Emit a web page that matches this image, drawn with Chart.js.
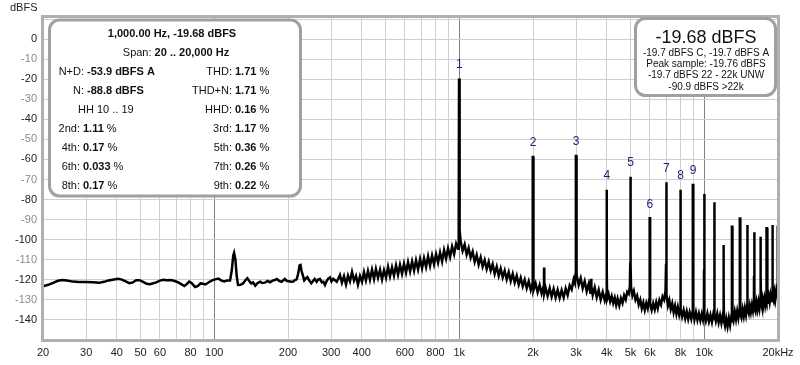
<!DOCTYPE html>
<html>
<head>
<meta charset="utf-8">
<script src="https://cdn.jsdelivr.net/npm/chart.js@4.4.0/dist/chart.umd.min.js"></script>
<style>
  body { margin: 0; background: #fff; }
  canvas { display: block; }
</style>
</head>
<body>
<canvas id="fftChart" width="800" height="365" style="width:800px;height:365px"></canvas>
<script>
// spectrum trace: [frequency Hz, level dBFS]
const spectrum = [
  [20,-123.2],[21,-122.5],[22,-121.5],[23,-120.5],[24,-120.1],[25,-120.3],[26.5,-120.9],[28,-121.1],[30,-121.1],[32,-121.2],
  [34,-121.5],[35.5,-121.0],[37,-120.3],[39,-119.8],[40.5,-119.5],[42,-119.9],[43.5,-120.8],[45,-121.7],[46.5,-121.3],[48,-120.2],
  [49.5,-120.2],[51,-120.9],[53,-122.0],[54.5,-122.2],[56,-121.8],[58,-121.3],[60,-120.4],[62,-120.0],[64,-120.2],[66.5,-120.1],
  [69,-120.6],[71,-121.2],[73,-122.0],[75.5,-123.1],[77,-122.3],[79,-120.9],[81,-121.7],[83.5,-123.6],[85.5,-123.2],[88,-121.8],
  [90,-122.0],[92,-122.3],[95,-121.2],[98,-120.3],[101,-119.8],[104,-119.4],[107,-120.4],[110,-120.8],[113,-120.3],[116,-120.3],
  [118,-115],[119.5,-108],[120.5,-106.6],[122,-110],[123.5,-118],[125,-122.6],[128,-122.5],[131,-121.8],[134,-120.2],[136.5,-119.2],
  [139,-120.6],[141.5,-121.8],[144,-121.3],[147,-122.9],[150,-121.7],[154,-120.9],[157,-121.6],[161,-121.4],[165,-120.6],[169,-121.2],
  [173,-120.4],[177,-120.1],[180,-119.6],[184,-120.5],[188,-121.0],[191,-120.3],[194,-119.6],[198,-120.6],[202,-120.7],[206,-121.0],
  [210,-120.9],[213.5,-120.1],[217,-119.8],[220,-117],[223,-112.8],[225,-112.6],[227,-115.5],[230,-117.8],[233,-120.3],[237,-119.2],
  [240,-118.7],[244,-120.3],[249,-121.7],[253,-120.6],[257,-119.6],[262,-121.0],[266,-119.8],[270,-119.6],[275,-121.3],[279,-121.0],
  [283,-122.6],[288,-120.5],[292,-119.4],[297,-118.8],[301,-120.8],[306,-119.5],[311,-120.2],[316,-121.0],[321,-119.4],
  [326,-117.6],[332,-121.4],[338.5,-118.2],[345,-122.3],[351.5,-117.9],[358,-120.8],[365,-116.1],[372,-120.4],[379,-118.0],[386,-122.4],
  [393.5,-118.1],[401,-121.0],[408.5,-116.2],[416,-120.3],[424,-115.6],[432,-119.9],[440.5,-115.0],[449,-119.6],[457,-114.6],[466,-119.0],
  [475,-115.0],[484,-119.8],[493,-115.2],[502.5,-118.9],[512,-113.6],[521.5,-118.3],[531.5,-113.8],[541.5,-117.9],[552,-112.8],[562.5,-117.4],
  [573,-112.6],[584,-117.0],[595,-112.0],[606.5,-116.4],[618,-111.2],[630,-115.8],[642,-110.9],[654,-115.4],[666,-110.3],[679,-114.8],
  [692,-109.6],[705,-114.2],[718,-109.2],[732,-113.6],[746,-108.3],[760,-113.0],[774.5,-107.9],[789,-112.2],[804,-107.2],[819.5,-111.4],
  [835,-106.4],[851,-110.8],[867,-105.2],[883.5,-109.4],[900,-104.4],[917.5,-108.6],[935,-103.4],[953,-107.2],[971,-102.0],[989,-104.5],
  [995,-95],[998,-19.68],[1002,-19.68],[1005,-95],
  [1013,-100.8],[1032,-105.6],[1052,-102.4],[1072,-107.4],[1092,-104.2],[1113,-109.0],[1134,-106.0],[1156,-111.0],[1178,-107.6],[1200,-112.4],
  [1223,-108.8],[1246,-113.4],[1270,-110.2],[1294,-114.6],[1319,-111.0],[1344,-115.4],[1369,-112.2],[1395,-117.0],[1422,-113.4],[1449,-118.0],
  [1476,-114.4],[1504,-118.8],[1533,-115.4],[1562,-119.8],[1592,-116.2],[1622,-120.6],[1653,-117.0],[1684,-121.4],[1716,-118.0],[1749,-122.4],
  [1782,-119.0],[1816,-123.2],[1850,-120.0],[1885,-124.2],[1921,-120.8],[1958,-125.0],[1990,-121.8],
  [1994,-110],[1996,-58.8],[2004,-58.8],[2006,-110],
  [2012,-125.2],[2050,-121.8],[2089,-126.2],[2129,-122.6],[2169,-126.8],[2205,-123.6],[2217,-120],[2219,-113.9],[2221,-113.9],[2223,-120],
  [2230,-126.6],[2252,-124.0],[2295,-128.0],[2339,-124.2],[2383,-128.4],[2428,-124.6],[2474,-128.8],[2521,-125.0],[2569,-129.0],[2618,-125.2],
  [2668,-128.8],[2719,-124.4],[2770,-127.6],[2823,-122.8],[2876,-124.8],[2931,-119.8],[2965,-121.6],[2985,-117.0],
  [2991,-110],[2994,-58.3],[3006,-58.3],[3009,-110],
  [3015,-117.4],[3072,-122.6],[3131,-119.2],[3190,-124.2],[3251,-120.7],[3313,-125.7],[3376,-122.0],[3430,-126.4],[3447,-122],[3450,-119.5],
  [3453,-122],[3470,-123.2],[3505,-127.6],[3572,-123.8],[3640,-128.7],[3709,-125.0],[3779,-129.9],[3851,-126.1],[3924,-130.2],[3985,-127.0],
  [3991,-115],[3992,-75.1],[4008,-75.1],[4009,-115],
  [4015,-129.5],[4070,-127.2],[4130,-130.8],[4190,-128.2],[4250,-131.6],[4310,-129.0],[4370,-132.6],[4430,-129.4],[4500,-132.8],[4570,-129.2],
  [4640,-131.6],[4710,-127.8],[4780,-129.8],[4850,-126.0],[4920,-127.0],[4970,-123.2],
  [4988,-112],[4990,-68.6],[5010,-68.6],[5012,-112],
  [5025,-123.5],[5090,-127.8],[5160,-125.6],[5240,-130.0],[5320,-128.0],[5400,-132.4],[5480,-130.0],[5560,-134.2],[5640,-131.4],[5720,-135.0],
  [5800,-131.6],[5880,-134.2],[5940,-131.0],[5975,-129.5],
  [5986,-115],[5988,-89.3],[6012,-89.3],[6014,-115],
  [6015,-132.0],[6100,-135.0],[6190,-131.8],[6280,-134.8],[6370,-131.2],[6460,-134.2],[6560,-130.2],[6660,-132.4],[6760,-128.4],[6860,-130.0],
  [6950,-125.5],
  [6983,-112],[6986,-71.4],[7014,-71.4],[7017,-112],
  [7030,-127.5],[7110,-132.8],[7200,-130.2],[7300,-134.6],[7400,-131.8],[7500,-136.2],[7600,-133.0],[7700,-137.0],[7800,-133.6],[7900,-137.2],
  [7975,-134.5],
  [7982,-115],[7984,-75.1],[8016,-75.1],[8018,-115],
  [8030,-134.5],[8120,-138.4],[8240,-135.2],[8360,-139.2],[8480,-135.8],[8600,-139.6],[8720,-136.2],[8850,-139.4],[8970,-135.5],
  [8980,-115],[8982,-72.8],[9018,-72.8],[9020,-115],
  [9030,-136.5],[9120,-139.8],[9250,-136.2],[9380,-140.0],[9510,-136.8],[9640,-140.2],[9770,-137.0],[9880,-139.8],[9968,-136.0],
  [9978,-115],[9980,-77.2],[10020,-77.2],[10022,-115],
  [10035,-137.5],[10150,-140.5],[10300,-136.8],[10450,-140.8],[10600,-137.5],[10750,-141.0],[10870,-137.6],[10965,-139.5],
  [10976,-120],[10978,-81.4],[11022,-81.4],[11024,-120],
  [11035,-137.0],[11150,-140.5],[11300,-137.0],[11450,-141.2],[11600,-137.8],[11750,-141.5],[11880,-138.2],[11962,-140.8],
  [11974,-125],[11976,-102.6],[12024,-102.6],[12026,-125],
  [12040,-140.5],[12160,-143.0],[12300,-139.4],[12450,-143.2],[12600,-139.0],[12750,-142.6],[12880,-138.8],[12960,-139.5],
  [12972,-120],[12974,-93.5],[13026,-93.5],[13028,-120],
  [13042,-137.0],[13180,-140.0],[13330,-136.0],[13480,-139.6],[13630,-135.6],[13780,-139.0],[13900,-135.8],[13955,-136.5],
  [13970,-120],[13972,-89.4],[14028,-89.4],[14030,-120],
  [14045,-136.0],[14200,-138.6],[14350,-134.8],[14500,-138.0],[14650,-134.2],[14800,-137.4],[14900,-134.5],[14952,-135.0],
  [14968,-120],[14970,-92.7],[15030,-92.7],[15032,-120],
  [15048,-134.5],[15200,-136.8],[15350,-133.0],[15500,-136.0],[15650,-132.6],[15800,-135.4],[15900,-132.4],[15950,-133.0],
  [15966,-118],[15968,-96.3],[16032,-96.3],[16034,-118],
  [16050,-133.0],[16200,-135.4],[16350,-131.4],[16500,-134.6],[16650,-131.0],[16800,-134.0],[16900,-130.8],[16946,-131.5],
  [16964,-118],[16966,-98.5],[17034,-98.5],[17036,-118],
  [17055,-131.5],[17200,-133.6],[17350,-129.8],[17500,-132.8],[17650,-129.4],[17800,-132.2],[17900,-129.2],[17944,-130.0],
  [17962,-115],[17964,-94.3],[18036,-94.3],[18038,-115],
  [18058,-130.0],[18200,-132.0],[18350,-128.2],[18500,-131.0],[18650,-127.8],[18800,-130.6],[18900,-127.6],[18940,-128.5],
  [18960,-115],[18962,-92.7],[19038,-92.7],[19040,-115],
  [19060,-128.5],[19200,-130.4],[19350,-126.6],[19500,-129.6],[19650,-126.2],[19800,-129.2],[19930,-126.8],
  [19950,-112],[19962,-93.5],[20000,-93.5]
];

// harmonic markers
const harmonicHz = [1000, 2000, 3000, 4000, 5000, 6000, 7000, 8000, 9000];
const harmonicDb = [-19.68, -58.8, -58.3, -75.1, -68.6, -89.3, -71.4, -75.1, -72.8];
const harmonicNames = ['1', '2', '3', '4', '5', '6', '7', '8', '9'];

// axes
const xGridHz = [20,30,40,50,60,70,80,90,100,200,300,400,500,600,700,800,900,
  1000,2000,3000,4000,5000,6000,7000,8000,9000,10000,20000];
const xLabelHz = [20,30,40,50,60,80,100,200,300,400,600,800,1000,2000,3000,4000,5000,6000,8000,10000,20000];
const xLabelText = ['20','30','40','50','60','80','100','200','300','400','600','800',
  '1k','2k','3k','4k','5k','6k','8k','10k','20kHz'];
const xDarkHz = [100, 1000, 10000];
const yGridDb = [10,5,0,-5,-10,-15,-20,-25,-30,-35,-40,-45,-50,-55,-60,-65,-70,-75,
  -80,-85,-90,-95,-100,-105,-110,-115,-120,-125,-130,-135,-140,-145,-150];
const yLabelDb = [0,-10,-20,-30,-40,-50,-60,-70,-80,-90,-100,-110,-120,-130,-140];

// info panels
const headLine = '1,000.00 Hz, -19.68 dBFS';
const spanLabel = 'Span: ';
const spanValue = '20 .. 20,000 Hz';
const leftStats = [
  ['N+D:', '-53.9 dBFS A', ''],
  ['N:', '-88.8 dBFS', ''],
  null,
  ['2nd:', '1.11', '%'],
  ['4th:', '0.17', '%'],
  ['6th:', '0.033', '%'],
  ['8th:', '0.17', '%']
];
const hhText = 'HH 10 .. 19';
const rightStats = [
  ['THD:', '1.71', '%'],
  ['THD+N:', '1.71', '%'],
  ['HHD:', '0.16', '%'],
  ['3rd:', '1.17', '%'],
  ['5th:', '0.36', '%'],
  ['7th:', '0.26', '%'],
  ['9th:', '0.22', '%']
];
const levelBig = '-19.68 dBFS';
const levelLines = [
  '-19.7 dBFS C, -19.7 dBFS A',
  'Peak sample: -19.76 dBFS',
  '-19.7 dBFS 22 - 22k UNW',
  '-90.9 dBFS >22k'
];

const FAMILY = '"Liberation Sans", Arial, sans-serif';
const NORMAL = '11px ' + FAMILY;
const BOLD = 'bold 11px ' + FAMILY;

function roundBox(ctx, x, y, w, h, r) {
    ctx.beginPath();
    ctx.moveTo(x + r, y);
    ctx.arcTo(x + w, y, x + w, y + h, r);
    ctx.arcTo(x + w, y + h, x, y + h, r);
    ctx.arcTo(x, y + h, x, y, r);
    ctx.arcTo(x, y, x + w, y, r);
    ctx.closePath();
    ctx.fillStyle = '#ffffff';
    ctx.fill();
    ctx.lineWidth = 3;
    ctx.strokeStyle = '#a0a0a0';
    ctx.stroke();
}

function drawPair(ctx, label, value, unit, xEnd, y) {
    ctx.textAlign = 'right';
    ctx.font = NORMAL;
    ctx.fillText(label, xEnd, y);
    ctx.textAlign = 'left';
    ctx.font = BOLD;
    let x = xEnd + 3;
    ctx.fillText(value, x, y);
    if (unit) {
        x += ctx.measureText(value).width;
        ctx.font = NORMAL;
        ctx.fillText(' ' + unit, x, y);
    }
}

const overlay = {
    id: 'overlay',
    afterDatasetsDraw(chart) {
        const ctx = chart.ctx;
        const xs = chart.scales.x, ys = chart.scales.y;
        ctx.save();
        ctx.fillStyle = '#1c1c78';
        ctx.font = '12px ' + FAMILY;
        ctx.textAlign = 'center';
        ctx.textBaseline = 'middle';
        harmonicHz.forEach((f, i) => {
            ctx.fillText(harmonicNames[i], xs.getPixelForValue(f), ys.getPixelForValue(harmonicDb[i]) - 14);
        });
        ctx.restore();
    },
    afterDraw(chart) {
        const ctx = chart.ctx;
        const a = chart.chartArea;
        ctx.save();

        // plot frame
        ctx.lineWidth = 3;
        ctx.strokeStyle = '#b0b0b0';
        ctx.strokeRect(a.left - 0.5, a.top - 0.5, a.right - a.left + 1, a.bottom - a.top + 1);

        ctx.fillStyle = '#222';
        ctx.font = NORMAL;
        ctx.textBaseline = 'middle';
        ctx.textAlign = 'left';
        ctx.fillText('dBFS', 10, 8);

        // left panel
        roundBox(ctx, 49.5, 20, 251, 176, 10);
        ctx.fillStyle = '#111';
        ctx.textAlign = 'center';
        ctx.font = BOLD;
        ctx.fillText(headLine, 172, 34);
        ctx.font = NORMAL;
        const w1 = ctx.measureText(spanLabel).width;
        ctx.font = BOLD;
        const w2 = ctx.measureText(spanValue).width;
        let sx = 176 - (w1 + w2) / 2;
        ctx.textAlign = 'left';
        ctx.font = NORMAL;
        ctx.fillText(spanLabel, sx, 53.3);
        ctx.font = BOLD;
        ctx.fillText(spanValue, sx + w1, 53.3);

        for (let i = 0; i < 7; i++) {
            const y = 72.3 + i * 18.9;
            const l = leftStats[i];
            if (l) {
                drawPair(ctx, l[0], l[1], l[2], i < 2 ? 84 : 80, y);
            } else {
                ctx.textAlign = 'left';
                ctx.font = NORMAL;
                ctx.fillText(hhText, 78, y);
            }
            const r = rightStats[i];
            drawPair(ctx, r[0], r[1], r[2], 232, y);
        }

        // right panel
        roundBox(ctx, 635.5, 18.5, 140, 77, 10);
        ctx.fillStyle = '#111';
        ctx.textAlign = 'center';
        ctx.font = '18px ' + FAMILY;
        ctx.fillText(levelBig, 706, 38);
        ctx.font = '10px ' + FAMILY;
        levelLines.forEach((t, i) => ctx.fillText(t, 706, 53.5 + i * 11.1));

        ctx.restore();
    }
};

const ctx = document.getElementById('fftChart').getContext('2d');
const chart = new Chart(ctx, {
    type: 'line',
    data: {
        datasets: [{
            data: spectrum.map(p => ({ x: p[0], y: p[1] })),
            borderColor: '#000',
            borderWidth: 2.5,
            pointRadius: 0,
            tension: 0,
            fill: false
        }]
    },
    options: {
        responsive: false,
        animation: false,
        layout: { padding: { top: 17, right: 22, left: 0, bottom: 0 } },
        plugins: { legend: { display: false }, tooltip: { enabled: false } },
        scales: {
            x: {
                type: 'logarithmic',
                min: 20,
                max: 20000,
                afterBuildTicks: s => { s.ticks = xGridHz.map(v => ({ value: v })); },
                afterFit: s => { s.height = 25; },
                border: { display: false },
                grid: {
                    drawTicks: false,
                    color: c => xDarkHz.includes(c.tick && c.tick.value) ? '#808080' : '#cfcfcf'
                },
                ticks: {
                    autoSkip: false,
                    maxRotation: 0,
                    padding: 6,
                    color: '#222',
                    font: { family: FAMILY, size: 11 },
                    callback: v => {
                        const i = xLabelHz.indexOf(v);
                        return i >= 0 ? xLabelText[i] : '';
                    }
                }
            },
            y: {
                min: -150,
                max: 11,
                afterBuildTicks: s => { s.ticks = yGridDb.map(v => ({ value: v })); },
                afterFit: s => { s.width = 43; },
                border: { display: false },
                grid: { drawTicks: false, color: '#cfcfcf' },
                ticks: {
                    padding: 6,
                    font: { family: FAMILY, size: 11 },
                    color: c => (c.tick.value / 10) % 2 === 0 ? '#222' : '#8a8a8a',
                    callback: v => yLabelDb.includes(v) ? String(v) : ''
                }
            }
        }
    },
    plugins: [overlay]
});
</script>
</body>
</html>
